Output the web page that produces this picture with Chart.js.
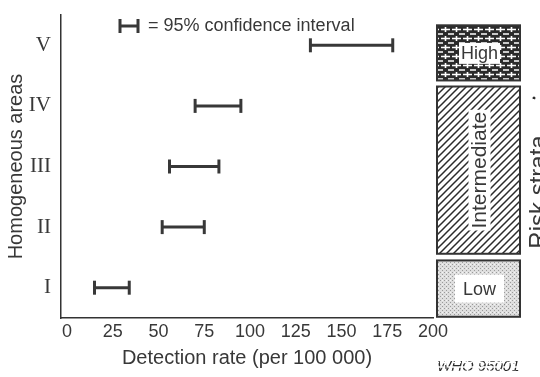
<!DOCTYPE html>
<html>
<head>
<meta charset="utf-8">
<script src="https://cdn.jsdelivr.net/npm/chart.js@4"></script>
<style>
  html, body { margin: 0; padding: 0; background: #fff; }
  #wrap { width: 540px; height: 377px; }
</style>
</head>
<body>
<div id="wrap"><canvas id="chart" width="540" height="377"></canvas></div>
<script>
// data
const areas = ['I', 'II', 'III', 'IV', 'V'];
const ciLow = [15, 52, 56, 70, 133];
const ciHigh = [34, 75, 83, 95, 178];
const xTicks = [0, 25, 50, 75, 100, 125, 150, 175, 200];
const strataNames = ['Low', 'Intermediate', 'High'];
const strataFirstArea = [0, 1, 4];
const strataLastArea = [0, 3, 4];

const INK = '#383838';
const SANS = '"Liberation Sans", Arial, Helvetica, sans-serif';

function makePattern(kind) {
  const c = document.createElement('canvas');
  const g = c.getContext('2d');
  if (kind === 'High') {
    c.width = 11; c.height = 9;
    g.fillStyle = '#2b2b2b';
    g.fillRect(0, 0, 11, 9);
    g.strokeStyle = '#fff';
    g.lineWidth = 1.6;
    g.beginPath();
    g.moveTo(1, 2.5); g.lineTo(10, 2.5);
    g.moveTo(5.5, 0); g.lineTo(5.5, 5);
    g.moveTo(0, 7); g.lineTo(3, 7);
    g.moveTo(8, 7); g.lineTo(11, 7);
    g.stroke();
  } else if (kind === 'Intermediate') {
    c.width = 7; c.height = 7;
    g.fillStyle = '#fff';
    g.fillRect(0, 0, 7, 7);
    g.strokeStyle = '#2b2b2b';
    g.lineWidth = 1.5;
    g.beginPath();
    g.moveTo(-1, 8); g.lineTo(8, -1);
    g.moveTo(-4, 4); g.lineTo(4, -4);
    g.moveTo(3, 11); g.lineTo(11, 3);
    g.stroke();
  } else {
    c.width = 4; c.height = 4;
    g.fillStyle = '#dedede';
    g.fillRect(0, 0, 4, 4);
    g.fillStyle = '#9a9a9a';
    g.fillRect(0, 0, 1, 1);
    g.fillRect(2, 2, 1, 1);
    g.fillStyle = '#f4f4f4';
    g.fillRect(2, 0, 1, 1);
  }
  return g.createPattern(c, 'repeat');
}

const extras = {
  id: 'extras',
  afterDraw(chart) {
    const { ctx } = chart;
    const y = chart.scales.y;
    ctx.save();

    // legend sample at the top
    ctx.strokeStyle = INK;
    ctx.lineWidth = 3;
    ctx.beginPath();
    ctx.moveTo(119, 26); ctx.lineTo(139, 26);
    ctx.moveTo(120, 19); ctx.lineTo(120, 33);
    ctx.moveTo(138, 19); ctx.lineTo(138, 33);
    ctx.stroke();
    ctx.fillStyle = INK;
    ctx.font = '18px ' + SANS;
    ctx.textAlign = 'left';
    ctx.textBaseline = 'middle';
    ctx.fillText('= 95% confidence interval', 148, 26);

    // risk strata boxes
    const topInset = [0.05, 0.18, 0.17];
    const botInset = [0.02, 0.06, -0.08];
    strataNames.forEach((name, i) => {
      const top = y.getPixelForValue(strataLastArea[i] + 0.5 - topInset[i]);
      const bot = y.getPixelForValue(strataFirstArea[i] - 0.5 + botInset[i]);
      const x0 = 437, x1 = 520;
      ctx.fillStyle = makePattern(name);
      ctx.fillRect(x0, top, x1 - x0, bot - top);
      ctx.strokeStyle = '#333';
      ctx.lineWidth = 2;
      ctx.strokeRect(x0, top, x1 - x0, bot - top);

      const cx = (x0 + x1) / 2 + 1, cy = (top + bot) / 2;
      ctx.font = (name === 'Intermediate' ? '21px ' : '18px ') + SANS;
      ctx.textAlign = 'center';
      ctx.textBaseline = 'middle';
      const w = ctx.measureText(name).width;
      ctx.save();
      ctx.translate(cx, cy);
      if (name === 'Intermediate') ctx.rotate(-Math.PI / 2);
      ctx.fillStyle = '#fff';
      if (name === 'High') ctx.fillRect(-w / 2 - 2, -10, w + 4, 21);
      else if (name === 'Low') ctx.fillRect(-w / 2 - 8, -14, w + 16, 28);
      else ctx.fillRect(-w / 2 - 2, -11, w + 4, 22);
      ctx.fillStyle = INK;
      ctx.fillText(name, 0, 1);
      ctx.restore();
    });

    // side label, cut by the right edge as in the print
    ctx.save();
    ctx.translate(527, 192);
    ctx.rotate(-Math.PI / 2);
    ctx.fillStyle = INK;
    ctx.font = '24px ' + SANS;
    ctx.textAlign = 'center';
    ctx.textBaseline = 'top';
    ctx.fillText('Risk strata', 0, 0);
    ctx.restore();
    ctx.beginPath();
    ctx.arc(534, 98, 1.5, 0, Math.PI * 2);
    ctx.fill();

    ctx.font = 'italic 15px ' + SANS;
    ctx.textAlign = 'left';
    ctx.textBaseline = 'middle';
    ctx.fillText('WHO 95001', 437, 367);
    ctx.restore();
  }
};

const datasets = areas.map((a, i) => ({
  label: a,
  data: [{ x: ciLow[i], y: i }, { x: ciHigh[i], y: i }],
  showLine: true,
  borderColor: INK,
  borderWidth: 3,
  pointStyle: 'line',
  rotation: 90,
  pointRadius: 7,
  pointBorderWidth: 3,
  pointBorderColor: INK,
  pointBackgroundColor: INK,
}));

new Chart(document.getElementById('chart'), {
  type: 'scatter',
  data: { datasets },
  options: {
    responsive: false,
    animation: false,
    events: [],
    layout: { padding: { top: 15, right: 107, bottom: 3, left: 0 } },
    plugins: { legend: { display: false }, tooltip: { enabled: false } },
    scales: {
      x: {
        type: 'linear',
        min: -3.3,
        max: 200,
        afterBuildTicks: (s) => { s.ticks = xTicks.map((v) => ({ value: v })); },
        afterFit: (s) => { s.height = 56; s.paddingLeft = 0; s.paddingRight = 0; },
        grid: { display: false, drawTicks: false },
        border: { display: true, color: '#333', width: 1.5 },
        ticks: { color: INK, padding: 3, font: { family: SANS, size: 18 } },
        title: {
          display: true,
          text: 'Detection rate (per 100 000)',
          color: INK,
          font: { family: SANS, size: 20 },
          padding: { top: 0, bottom: 4 },
        },
      },
      y: {
        type: 'linear',
        min: -0.5,
        max: 4.5,
        afterBuildTicks: (s) => { s.ticks = areas.map((a, i) => ({ value: i })); },
        afterFit: (s) => { s.width = 61; s.paddingTop = 0; s.paddingBottom = 0; },
        grid: { display: false, drawTicks: false },
        border: { display: true, color: '#333', width: 1.5 },
        ticks: {
          color: INK,
          padding: 10,
          font: { family: '"Liberation Serif", "Times New Roman", serif', size: 21 },
          callback: (v) => areas[v],
        },
        title: {
          display: true,
          text: 'Homogeneous areas',
          color: INK,
          font: { family: SANS, size: 20 },
          padding: { top: 4, bottom: 0 },
        },
      },
    },
  },
  plugins: [extras],
});
</script>
</body>
</html>
